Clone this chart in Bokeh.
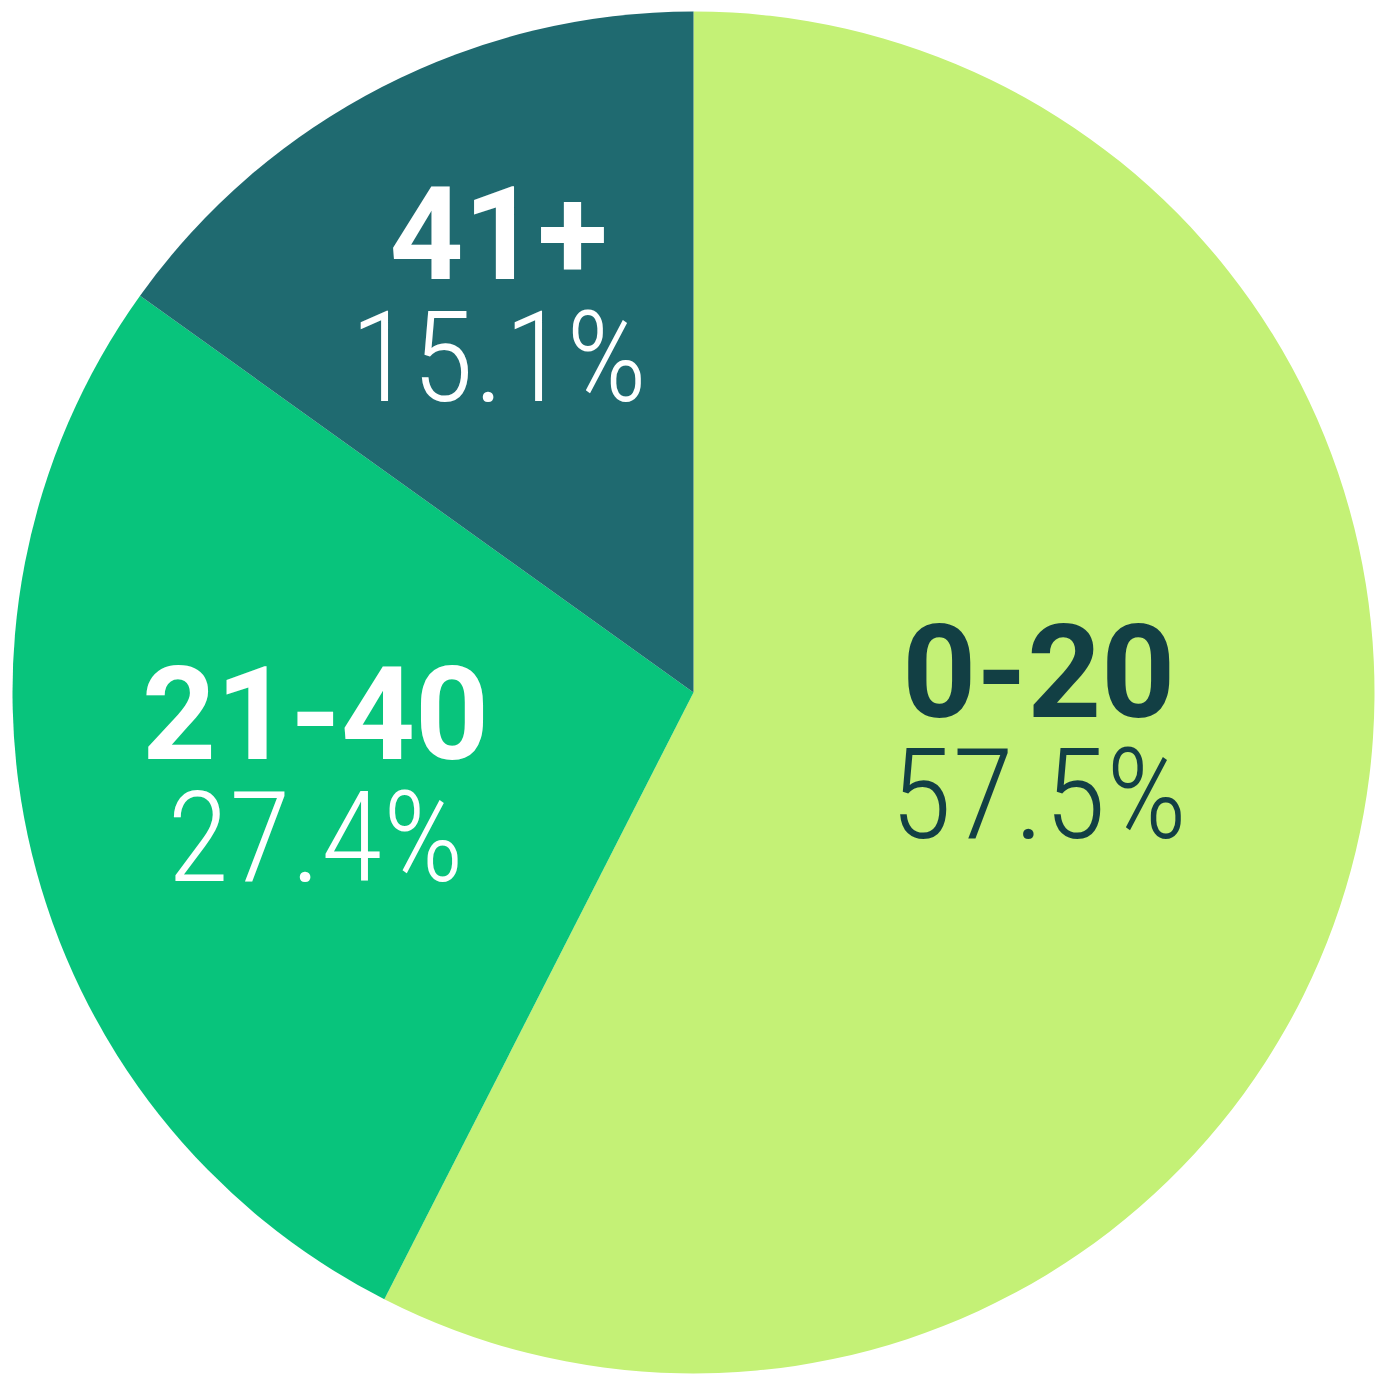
import numpy as np
from bokeh.plotting import figure
from bokeh.models import Range1d, ColumnDataSource
from bokeh.core.properties import value
from bokeh.embed import file_html
from bokeh.resources import INLINE

# ---- data ----
categories = ["0-20", "21-40", "41+"]
shares = [57.5, 27.4, 15.1]
pct_labels = ["57.5%", "27.4%", "15.1%"]
colors = ["#c4f176", "#08c47c", "#1f6a70"]
text_colors = ["#123f44", "#ffffff", "#ffffff"]
# label anchor offsets as fraction of radius (math orientation)
lbl_dx = [0.507, -0.555, -0.286]
lbl_dy = [-0.057, -0.119, 0.585]

W = 1380
H = 1380
cx, cy, R = 693, 688, 681
BOLD_PX = 129
LIGHT_PX = 127
SHIFT = 0.35  # baseline compensation (fraction of font size)

cum = np.concatenate([[0], np.cumsum(shares)])
start = [90 - c * 3.6 for c in cum[:-1]]
end = [90 - c * 3.6 for c in cum[1:]]

src = ColumnDataSource(dict(x=[cx] * 3, y=[cy] * 3, start=start, end=end, color=colors))

p = figure(width=W, height=H, output_backend="svg", toolbar_location=None,
           x_range=Range1d(0, W), y_range=Range1d(0, H),
           min_border=0, background_fill_color="white", border_fill_color="white")
p.axis.visible = False
p.grid.visible = False
p.outline_line_color = None

p.wedge(x="x", y="y", radius=R, start_angle="start", end_angle="end",
        start_angle_units="deg", end_angle_units="deg", direction="clock",
        fill_color="color", line_color=None, source=src)

ax = [cx + R * d for d in lbl_dx]
ay = [cy + R * d for d in lbl_dy]
tsrc = ColumnDataSource(dict(
    x=ax,
    y1=[a + 16 + SHIFT * BOLD_PX for a in ay],
    y2=[a - 108 + SHIFT * LIGHT_PX for a in ay],
    cat=categories, pct=pct_labels, tc=text_colors))

p.text(x="x", y="y1", text="cat", source=tsrc, text_color="tc",
       text_font=value("Roboto"), text_font_style="bold", text_font_size=f"{BOLD_PX}px",
       text_align="center", text_baseline="alphabetic")
p.text(x="x", y="y2", text="pct", source=tsrc, text_color="tc",
       text_font=value("Roboto Condensed Light"), text_font_size=f"{LIGHT_PX}px",
       text_align="center", text_baseline="alphabetic")

open("out.html", "w").write(file_html(p, INLINE))
